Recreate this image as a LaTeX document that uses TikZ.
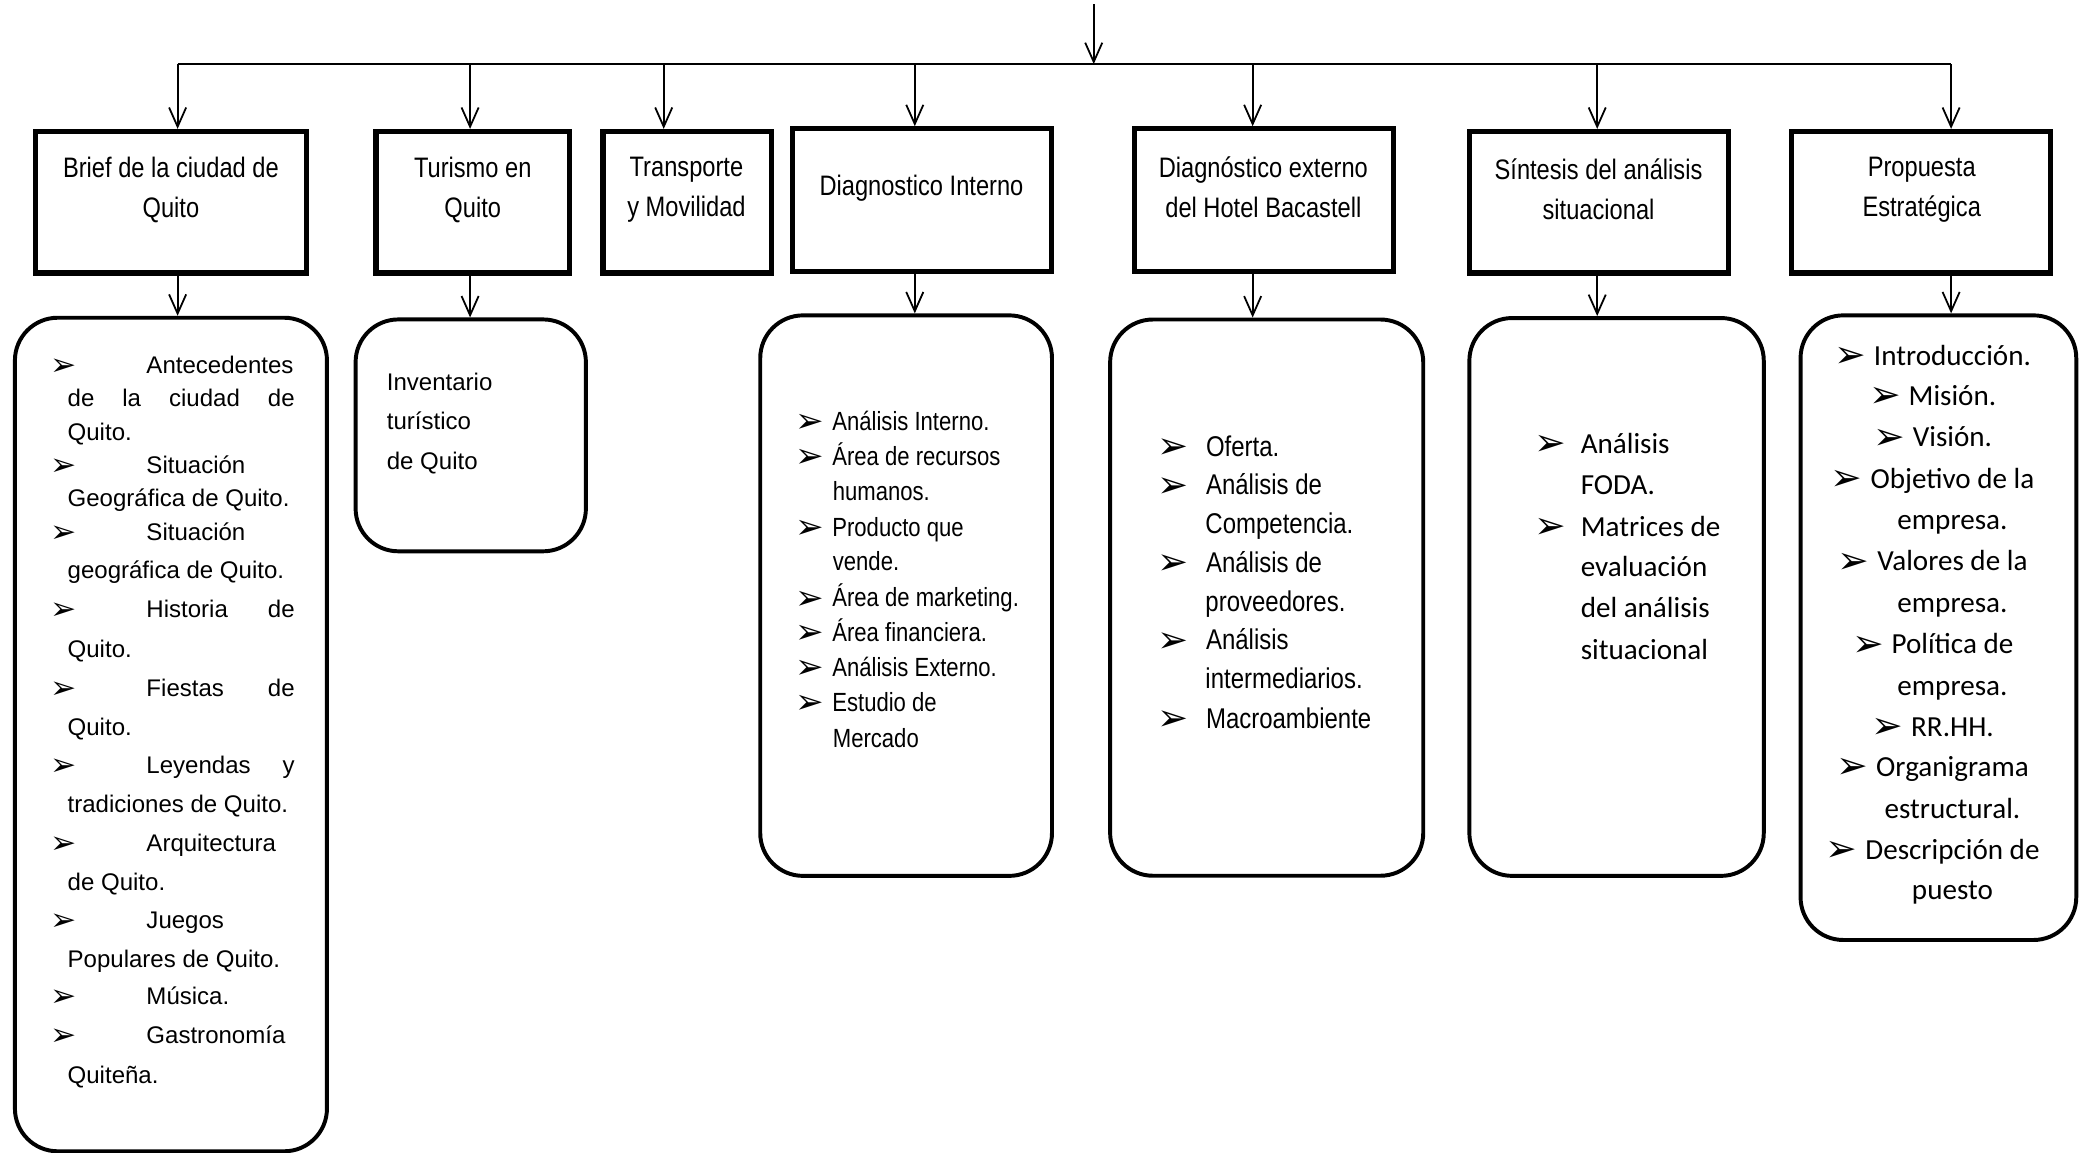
\documentclass[tikz,border=0pt]{standalone}
\usepackage{fontspec}
\setmainfont{Liberation Sans}
\newfontfamily\narrowfont[FakeStretch=0.84]{Liberation Sans}
\newfontfamily\calfont{Carlito}
\newfontfamily\dingfont{DejaVu Sans}
\usetikzlibrary{arrows.meta}

\newcommand{\bul}{\raisebox{-0.08em}{\scalebox{1.3}{\dingfont\char"27A2}}}
\newcommand{\bulgap}[1]{\makebox[#1][l]{\bul}}

\tikzset{%
  top box/.style={
    draw,
    line width=2.8pt,
    minimum height=2.65cm,
    inner sep=0pt
  },
  top text/.style={
    align=center,
    inner sep=0pt,
    font=\narrowfont\fontsize{15pt}{21.3pt}\selectfont
  },
  list box/.style={
    draw,
    line width=2.1pt,
    rounded corners=0.8cm,
    inner sep=0pt
  },
  list line/.style={
    anchor=mid west,
    inner sep=0pt,
    yshift=-0.07cm
  },
  arial list/.style={list line, font=\fontsize{12.8pt}{15pt}\selectfont},
  narrow list/.style={list line, font=\narrowfont\fontsize{14pt}{16pt}\selectfont},
  wide list/.style={list line, font=\narrowfont\fontsize{15.2pt}{17pt}\selectfont},
  calibri list/.style={list line, font=\calfont\fontsize{15.5pt}{18pt}\selectfont},
}

\begin{document}
\begin{tikzpicture}[x=0.025cm, y=-0.025cm, line width=0.95pt,
    >={Straight Barb[length=3.6mm,width=3.2mm]}]
    \useasboundingbox (0,0) rectangle (1568,863);

    % heading boxes
    \node [top box, minimum width=5.075cm] (brief) at (128,151.5) {};
    \node [top box, minimum width=3.625cm] (turismo) at (354,151.5) {};
    \node [top box, minimum width=3.15cm] (transporte) at (514.5,151.5) {};
    \node [top box, minimum width=4.85cm, minimum height=2.675cm] (diagint) at (690.5,150) {};
    \node [top box, minimum width=4.85cm, minimum height=2.675cm] (diagext) at (946.5,150) {};
    \node [top box, minimum width=4.85cm] (sintesis) at (1197.5,151.5) {};
    \node [top box, minimum width=4.85cm] (propuesta) at (1438.5,151.5) {};

    \node [top text] (brief-t) at (128,142) {Brief de la ciudad de\\Quito};
    \node [top text] (turismo-t) at (354,142) {Turismo en\\Quito};
    \node [top text] (transporte-t) at (514,142) {Transporte\\y Movilidad};
    \node [top text] (diagint-t) at (690,141) {Diagnostico Interno};
    \node [top text] (diagext-t) at (946,140) {Diagnóstico externo\\del Hotel Bacastell};
    \node [top text] (sintesis-t) at (1197,142) {Síntesis del análisis\\situacional};
    \node [top text] (propuesta-t) at (1439,142) {Propuesta\\Estratégica};

    % content boxes
    \node [list box, minimum width=5.84cm, minimum height=15.6cm] (brieflist) at (128,550) {};
    \node [list box, minimum width=4.31cm, minimum height=4.34cm] (invlist) at (352.5,326) {};
    \node [list box, minimum width=5.46cm, minimum height=10.49cm] (intlist) at (678.5,446) {};
    \node [list box, minimum width=5.86cm, minimum height=10.41cm] (extlist) at (948.5,447.5) {};
    \node [list box, minimum width=5.51cm, minimum height=10.44cm] (sinlist) at (1210.5,447) {};
    \node [list box, minimum width=5.16cm, minimum height=11.69cm] (proplist) at (1451.5,470) {};

    % connectors
    \coordinate (top-in) at (819,3);
    \coordinate (hub) at (819,48);
    \draw [->] (top-in) -- (hub);
    \foreach \x [count=\i] in {133,352,497,685,938,1196,1461}
      \coordinate (bus-\i) at (\x,48);
    \draw (bus-1) -- (bus-7);
    \foreach \i/\n in {1/brief,2/turismo,3/transporte,4/diagint,5/diagext,6/sintesis,7/propuesta}
      \draw [->] (bus-\i) -- (bus-\i |- \n.north);
    \foreach \i/\n/\m in {1/brief/brieflist,2/turismo/invlist,4/diagint/intlist,5/diagext/extlist,6/sintesis/sinlist,7/propuesta/proplist}
      \draw [->] (bus-\i |- \n.south) -- (bus-\i |- \m.north);

    % Brief list
    \foreach \x/\y/\t [count=\i] in {
        37/273/{\bulgap{1.8cm}Antecedentes},
        50/298/{\makebox[4.25cm][s]{de la ciudad de}},
        50/323/{Quito.},
        37/348/{\bulgap{1.8cm}Situación},
        50/373/{Geográfica de Quito.},
        37/398/{\bulgap{1.8cm}Situación},
        50/427/{geográfica de Quito.},
        37/456/{\bulgap{1.8cm}\makebox[2.775cm][s]{Historia de}},
        50/486/{Quito.},
        37/515/{\bulgap{1.8cm}\makebox[2.775cm][s]{Fiestas de}},
        50/544/{Quito.},
        37/573/{\bulgap{1.8cm}\makebox[2.775cm][s]{Leyendas y}},
        50/602/{tradiciones de Quito.},
        37/631/{\bulgap{1.8cm}Arquitectura},
        50/660/{de Quito.},
        37/689/{\bulgap{1.8cm}Juegos},
        50/718/{Populares de Quito.},
        37/746/{\bulgap{1.8cm}Música.},
        37/775/{\bulgap{1.8cm}Gastronomía},
        50/805/{Quiteña.}}
      \node [arial list] (brief-\i) at (\x,\y) {\t};

    % Inventario
    \foreach \y/\t [count=\i] in {286/Inventario,315/turístico,345/de Quito}
      \node [arial list] (inv-\i) at (289,\y) {\t};

    % Diagnostico interno list
    \foreach \x/\y/\t [count=\i] in {
        595/316/{\bulgap{0.69cm}Análisis Interno.},
        595/342/{\bulgap{0.69cm}Área de recursos},
        623/368/{humanos.},
        595/395/{\bulgap{0.69cm}Producto que},
        623/421/{vende.},
        595/448/{\bulgap{0.69cm}Área de marketing.},
        595/474/{\bulgap{0.69cm}Área financiera.},
        595/500/{\bulgap{0.69cm}Análisis Externo.},
        595/526/{\bulgap{0.69cm}Estudio de},
        623/553/{Mercado}}
      \node [narrow list] (int-\i) at (\x,\y) {\t};

    % Diagnostico externo list
    \foreach \x/\y/\t [count=\i] in {
        866/335/{\bulgap{0.91cm}Oferta.},
        866/364/{\bulgap{0.91cm}Análisis de},
        902/393/{Competencia.},
        866/422/{\bulgap{0.91cm}Análisis de},
        902/451/{proveedores.},
        866/480/{\bulgap{0.91cm}Análisis},
        902/509/{intermediarios.},
        866/539/{\bulgap{0.91cm}Macroambiente}}
      \node [wide list] (ext-\i) at (\x,\y) {\t};

    % Sintesis list
    \foreach \x/\y/\t [count=\i] in {
        1148/333/{\bulgap{0.875cm}Análisis},
        1183/364/{FODA.},
        1148/395/{\bulgap{0.875cm}Matrices de},
        1183/425/{evaluación},
        1183/456/{del análisis},
        1183/487/{situacional}}
      \node [calibri list] (sin-\i) at (\x,\y) {\t};

    % Propuesta list
    \foreach \b/\y/\t [count=\i] in {
        1/267/{Introducción.},
        1/297/{Misión.},
        1/328/{Visión.},
        1/359/{Objetivo de la},
        0/390/{empresa.},
        1/421/{Valores de la},
        0/452/{empresa.},
        1/483/{Política de},
        0/514/{empresa.},
        1/545/{RR.HH.},
        1/575/{Organigrama},
        0/606/{estructural.},
        1/637/{Descripción de},
        0/667/{puesto}}
      \node [calibri list, anchor=mid] (prop-\i) at (1462,\y)
        {\ifnum\b=1 \llap{\bulgap{0.74cm}}\fi\t};
\end{tikzpicture}
\end{document}
